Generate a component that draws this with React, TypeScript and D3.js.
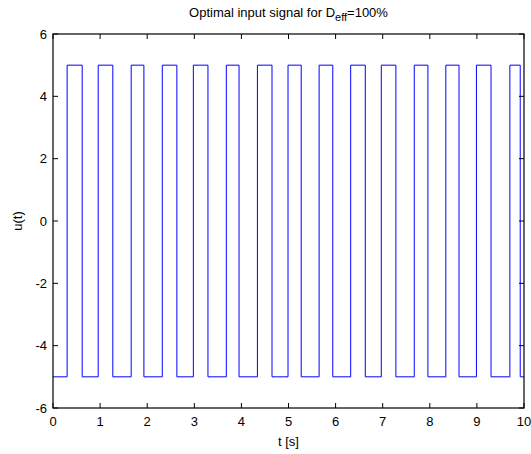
import * as d3 from "d3";

// switching times (s)
const riseTimes = [0.3, 0.96, 1.66, 2.32, 2.98, 3.68, 4.34, 4.99, 5.65, 6.32, 6.97, 7.67, 8.34, 8.99, 9.7];
const fallTimes = [0.62, 1.27, 1.93, 2.63, 3.29, 3.95, 4.65, 5.27, 5.94, 6.63, 7.28, 7.96, 8.62, 9.3, 9.92];
const highLevel = 5;
const lowLevel = -5;
const xTicks = [0, 1, 2, 3, 4, 5, 6, 7, 8, 9, 10];
const yTicks = [-6, -4, -2, 0, 2, 4, 6];

const W = 531;
const H = 454;
const margin = { left: 53, right: 7, top: 34, bottom: 46 };
const font = "'Liberation Sans', Arial, sans-serif";

function buildSignal() {
  const pts: [number, number][] = [[0, lowLevel]];
  riseTimes.forEach((r, i) => {
    pts.push([r, lowLevel], [r, highLevel]);
    const f = fallTimes[i];
    pts.push([f, highLevel], [f, lowLevel]);
  });
  pts.push([10, lowLevel]);
  return pts;
}

export default function App() {
  const x = d3.scaleLinear().domain([0, 10]).range([margin.left, W - margin.right]);
  const y = d3.scaleLinear().domain([-6, 6]).range([H - margin.bottom, margin.top]);
  const line = d3
    .line<[number, number]>()
    .x((d) => x(d[0]))
    .y((d) => y(d[1]));
  const x0 = x(0);
  const x1 = x(10);
  const y0 = y(-6);
  const y1 = y(6);
  const tk = 5;

  return (
    <div style={{ position: "fixed", left: 0, top: 0 }}>
      <svg width={W} height={H} style={{ display: "block", background: "#fff" }} fontFamily={font}>
        <rect x={0} y={0} width={W} height={H} fill="#fff" />
        <path d={line(buildSignal()) || ""} fill="none" stroke="#0000ff" strokeWidth={1} />
        {xTicks.map((t) => (
          <g key={"x" + t}>
            <line x1={x(t)} x2={x(t)} y1={y0} y2={y0 - tk} stroke="#000" />
            <line x1={x(t)} x2={x(t)} y1={y1} y2={y1 + tk} stroke="#000" />
            <text x={x(t)} y={y0 + 18} fontSize={13} textAnchor="middle" fill="#000">
              {t}
            </text>
          </g>
        ))}
        {yTicks.map((t) => (
          <g key={"y" + t}>
            <line x1={x0} x2={x0 + tk} y1={y(t)} y2={y(t)} stroke="#000" />
            <line x1={x1} x2={x1 - tk} y1={y(t)} y2={y(t)} stroke="#000" />
            <text x={x0 - 6} y={y(t) + 4.5} fontSize={13} textAnchor="end" fill="#000">
              {t}
            </text>
          </g>
        ))}
        <rect x={x0} y={y1} width={x1 - x0} height={y0 - y1} fill="none" stroke="#000" strokeWidth={1.2} />
        <text x={(x0 + x1) / 2} y={H - 8} fontSize={13} textAnchor="middle" fill="#000">
          t [s]
        </text>
        <text
          transform={`translate(22,${(y0 + y1) / 2}) rotate(-90)`}
          fontSize={13}
          textAnchor="middle"
          fill="#000"
        >
          u(t)
        </text>
        <text x={(x0 + x1) / 2} y={17} fontSize={13} textAnchor="middle" fill="#000">
          Optimal input signal for D
          <tspan dy={4} fontSize={11}>eff</tspan>
          <tspan dy={-4}>=100%</tspan>
        </text>
      </svg>
    </div>
  );
}
